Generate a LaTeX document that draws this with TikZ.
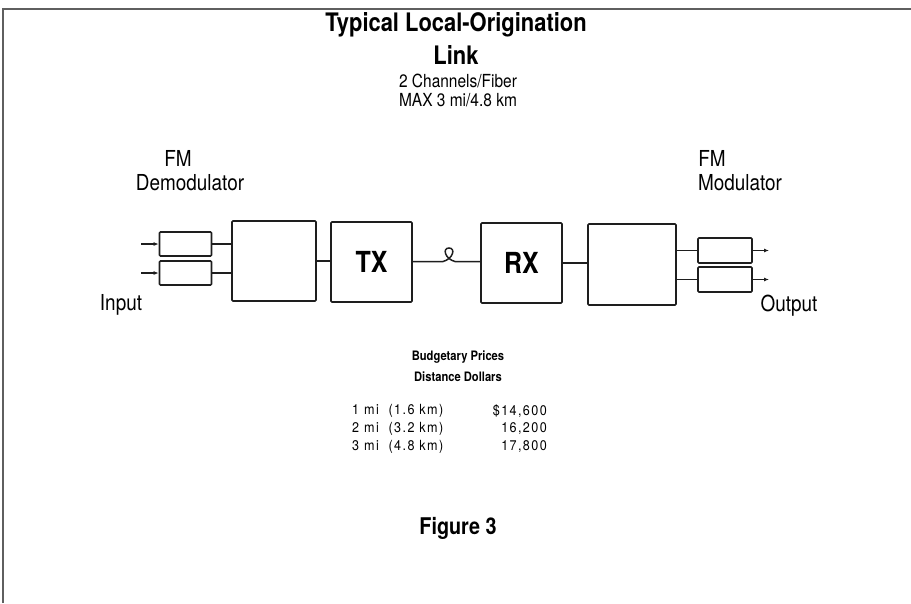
\documentclass[tikz,border=0pt]{standalone}
\usepackage{fontspec}
\setmainfont{TeX Gyre Heros}
\newfontfamily\lkfont[FakeStretch=0.86]{TeX Gyre Heros}
\newfontfamily\lktabfont[FakeStretch=0.9, LetterSpace=10]{TeX Gyre Heros}
\usepackage{tikz}
\usetikzlibrary{arrows.meta,positioning}
\definecolor{lkink}{RGB}{30,30,30}
\definecolor{lkframe}{RGB}{95,95,95}
\tikzset{
  lkbox/.style={draw=lkink, line width=1.7pt, rounded corners=1pt, inner sep=0pt},
  lksmall/.style={lkbox, minimum width=52pt, minimum height=24pt},
  lkbig/.style={lkbox, minimum width=84pt, minimum height=80pt},
  lkwire/.style={draw=lkink, line width=1.5pt},
  lkarr/.style={lkwire, -{Latex[length=5pt,width=4pt]}},
  lklabel/.style={font=\lkfont\fontsize{22}{26}\selectfont, inner sep=0pt},
  lktab/.style={font=\lktabfont\fontsize{14}{16}\selectfont, inner sep=0pt}
}
\begin{document}
\begin{tikzpicture}[x=1pt, y=-1pt]
  \useasboundingbox (0,0) rectangle (911,603);
  \draw[lkframe, line width=1.5pt] (3,603) -- (3,9) -- (911,9);
  % headings
  \node[font=\lkfont\bfseries\fontsize{25.5}{30}\selectfont, inner sep=0pt] (title) at (456,25) {Typical Local-Origination};
  \node[font=\lkfont\bfseries\fontsize{25.5}{30}\selectfont, inner sep=0pt] (title2) at (456,55) {Link};
  \node[font=\lkfont\fontsize{18}{21}\selectfont, inner sep=0pt] (sub1) at (458,81) {2 Channels/Fiber};
  \node[font=\lkfont\fontsize{18}{21}\selectfont, inner sep=0pt] (sub2) at (458,100) {MAX 3 mi/4.8 km};
  % blocks
  \node[lksmall] (dem1) at (185.5,244) {};
  \node[lksmall] (dem2) at (185.5,273) {};
  \node[lkbig] (demux) at (274,261) {};
  \node[lkbig, minimum width=81pt] (tx) at (371.5,262) {\lkfont\bfseries\fontsize{29}{32}\selectfont TX};
  \node[lkbig, minimum width=81pt] (rx) at (521.5,263) {\lkfont\bfseries\fontsize{29}{32}\selectfont RX};
  \node[lkbig, minimum width=88pt, minimum height=81pt] (mux) at (632,264.5) {};
  \node[lksmall, minimum width=54pt, minimum height=25pt] (mod1) at (725,250.5) {};
  \node[lksmall, minimum width=54pt, minimum height=25pt] (mod2) at (725,279.5) {};
  \node[lklabel] (fmin) at (178,158) {FM};
  \node[lklabel] (demlab) at (190,183) {Demodulator};
  \node[lklabel] (fmout) at (712,158) {FM};
  \node[lklabel] (modlab) at (740,183) {Modulator};
  \node[lklabel] (inlab) at (121,305) {Input};
  \node[lklabel] (outlab) at (789,306) {Output};
  \coordinate (in1) at (141,244);
  \coordinate (in2) at (141,273);
  \coordinate (out1) at (769,250.5);
  \coordinate (out2) at (769,279.5);
  \coordinate (loopa) at (443,261.5);
  \coordinate (loopb) at (455,261.5);
  % connectors
  \draw[lkarr] (in1) -- (dem1.west);
  \draw[lkarr] (in2) -- (dem2.west);
  \draw[lkwire] (dem1.east) -- (dem1.east -| demux.west);
  \draw[lkwire] (dem2.east) -- (dem2.east -| demux.west);
  \draw[lkwire] (demux.east) -- (demux.east -| tx.west);
  \draw[lkwire] (tx.east |- loopa) -- (loopa)
    .. controls (453,259) and (456,248) .. (449,248)
    .. controls (442,248) and (445,259) .. (loopb) -- (rx.west |- loopb);
  \draw[lkwire] (rx.east) -- (rx.east -| mux.west);
  \draw[lkwire] (mux.east |- mod1.west) -- (mod1.west);
  \draw[lkwire] (mux.east |- mod2.west) -- (mod2.west);
  \draw[lkarr] (mod1.east) -- (out1);
  \draw[lkarr] (mod2.east) -- (out2);
  % price table
  \node[font=\lkfont\bfseries\fontsize{13}{15}\selectfont, inner sep=0pt] (budget) at (458,357) {Budgetary Prices};
  \node[font=\lkfont\bfseries\fontsize{13}{15}\selectfont, inner sep=0pt] (cols) at (458,377) {Distance Dollars};
  \foreach \r/\d/\p [count=\i] in {1/1.6/{\$14,600}, 2/3.2/{16,200}, 3/4.8/{17,800}} {
    \node[lktab, anchor=west] (dist\i) at (352,393+18*\i) {\r\ mi\ \ (\d\ km)};
    \node[lktab, anchor=east] (cost\i) at (547,393+18*\i) {\p};
  }
  \node[font=\lkfont\bfseries\fontsize{23}{27}\selectfont, inner sep=0pt] (fig) at (458,528) {Figure 3};
\end{tikzpicture}
\end{document}
